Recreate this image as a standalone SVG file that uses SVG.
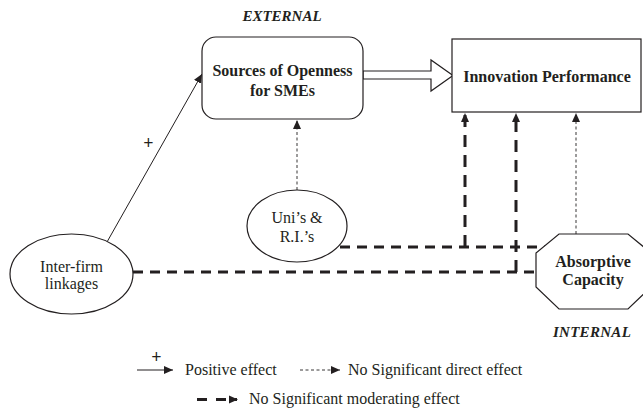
<svg xmlns="http://www.w3.org/2000/svg" width="643" height="408" viewBox="0 0 643 408">
<style>
text{font-family:"Liberation Serif","Times New Roman",serif;fill:#231f20;}
.b{font-weight:bold;font-size:16px;}
.r{font-size:16px;}
.lab{font-weight:bold;font-style:italic;font-size:15px;}
.plus{font-weight:bold;font-size:18px;}
.shape{fill:#fff;stroke:#231f20;stroke-width:1.2;}
.solid{stroke:#231f20;stroke-width:1;fill:none;}
.dot{stroke:#231f20;stroke-width:0.9;stroke-dasharray:3 2.5;fill:none;}
.dash{stroke:#231f20;stroke-width:3;stroke-dasharray:10 7;fill:none;}
.dashv{stroke:#231f20;stroke-width:3;stroke-dasharray:12 8;fill:none;}
</style>
<defs>
<marker id="ah" markerUnits="userSpaceOnUse" markerWidth="10" markerHeight="8" refX="9" refY="4" orient="auto">
<path d="M0,0 L9,4 L0,8 Z" fill="#231f20"/>
</marker>
</defs>
<text class="lab" x="282" y="21" text-anchor="middle">EXTERNAL</text>
<text class="lab" x="592" y="337" text-anchor="middle" letter-spacing="0.3">INTERNAL</text>
<g id="connectors">
<polygon points="363,71 431,71 431,60 453,75.5 431,91 431,79 363,79" class="shape" stroke-width="1"/>
<line x1="107" y1="242" x2="202" y2="74" class="solid" marker-end="url(#ah)"/>
<text class="plus" x="148.5" y="149" text-anchor="middle">+</text>
<line x1="297" y1="190" x2="297" y2="120" class="dot" marker-end="url(#ah)"/>
<line x1="340" y1="247" x2="545" y2="247" class="dash"/>
<line x1="133" y1="272" x2="537" y2="272" class="dash"/>
<line x1="465" y1="247" x2="465" y2="113" class="dashv" marker-end="url(#ah)"/>
<line x1="516" y1="272" x2="516" y2="113" class="dashv" marker-end="url(#ah)"/>
<line x1="576" y1="234" x2="576" y2="113" class="dot" marker-end="url(#ah)"/>
</g>
<g id="sources">
<rect x="202" y="37" width="161" height="82" rx="14" ry="14" class="shape"/>
<text class="b" x="282.5" y="76" text-anchor="middle">Sources of Openness</text>
<text class="b" x="282.5" y="96" text-anchor="middle">for SMEs</text>
</g>
<g id="innovation">
<rect x="452" y="39" width="189" height="73" class="shape"/>
<text class="b" x="547" y="81.5" text-anchor="middle">Innovation Performance</text>
</g>
<g id="interfirm">
<ellipse cx="71.5" cy="274" rx="61.5" ry="40" class="shape"/>
<text class="r" x="71.5" y="271.5" text-anchor="middle">Inter-firm</text>
<text class="r" x="71.5" y="289" text-anchor="middle">linkages</text>
</g>
<g id="unis">
<ellipse cx="297" cy="226" rx="50" ry="36" class="shape"/>
<text class="r" x="297" y="223" text-anchor="middle">Uni’s &amp;</text>
<text class="r" x="297" y="241.5" text-anchor="middle">R.I.’s</text>
</g>
<g id="absorptive">
<polygon points="559,234 628,234 651,253 651,287 628,309 559,309 536,287 536,253" class="shape"/>
<text class="b" x="593" y="267" text-anchor="middle">Absorptive</text>
<text class="b" x="593" y="285" text-anchor="middle">Capacity</text>
</g>
<g id="legend">
<line x1="137" y1="370" x2="173" y2="370" class="solid" marker-end="url(#ah)"/>
<text class="plus" x="156.5" y="363" text-anchor="middle" font-size="16">+</text>
<text class="r" x="185" y="375">Positive effect</text>
<line x1="300" y1="370" x2="340" y2="370" class="dot" marker-end="url(#ah)"/>
<text class="r" x="348" y="375">No Significant direct effect</text>
<line x1="197" y1="399.5" x2="237" y2="399.5" style="stroke:#231f20;stroke-width:3;stroke-dasharray:10 9;fill:none"/>
<path d="M229,395.5 L238,399.5 L229,403.5 Z" fill="#231f20"/>
<text class="r" x="249" y="404">No Significant moderating effect</text>
</g>
</svg>
